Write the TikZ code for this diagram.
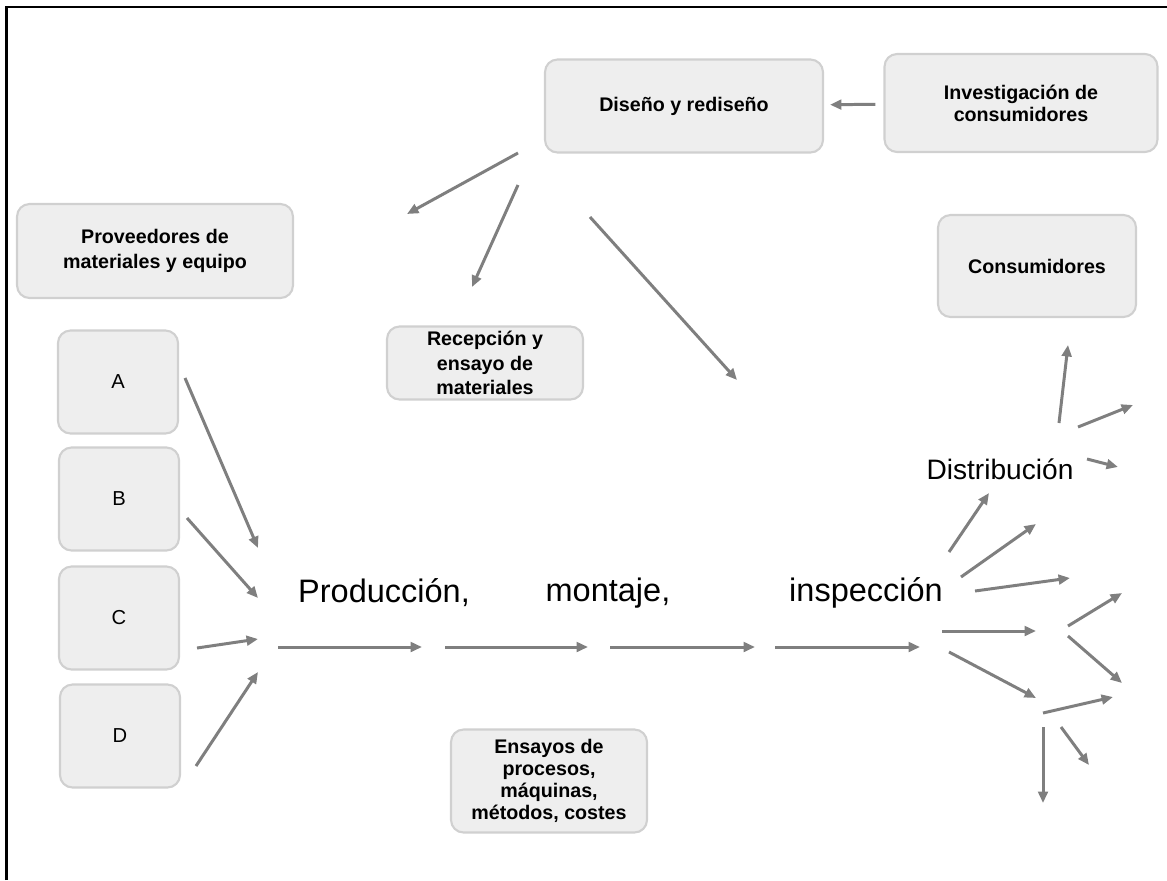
\documentclass[tikz,border=0pt]{standalone}
\usepackage{fontspec}
\setmainfont{Liberation Sans}
\usepackage{tikz}
\usetikzlibrary{arrows.meta}

\definecolor{boxfill}{HTML}{EEEEEE}
\definecolor{boxline}{HTML}{D0D0D0}
\definecolor{arrowgray}{HTML}{7F7F7F}

\begin{document}
\begin{tikzpicture}[x=0.02cm, y=-0.02cm,
			box_style/.style={rectangle,rounded corners=0.25cm,draw=boxline,line width=1.2pt,fill=boxfill,
				align=center,font=\fontsize{11.2}{13}\selectfont\bfseries,inner sep=2pt},
			letter_style/.style={box_style,font=\fontsize{11.5}{13}\selectfont,
				minimum width=2.4cm,minimum height=2.06cm},
			step_text/.style={font=\fontsize{18.5}{22}\selectfont,inner sep=0pt},
			edge_style/.style={draw=arrowgray,line width=1.7pt,
				-{Triangle[length=6.5pt,width=5.5pt]}}]
			\useasboundingbox (0,0) rectangle (1167,880);
			% frame
			\draw[line width=1.7pt] (6.5,880) -- (6.5,7) -- (1167,7);

			% boxes
			\node[box_style,minimum width=5.56cm,minimum height=1.86cm] (dis) at (684,106) {Diseño y rediseño};
			\node[box_style,minimum width=5.46cm,minimum height=1.96cm,font=\fontsize{11.2}{12.4}\selectfont\bfseries] (inv) at (1021,103) {Investigación de\\consumidores};
			\node[box_style,minimum width=5.52cm,minimum height=1.88cm,font=\fontsize{11.2}{14.6}\selectfont\bfseries] (prov) at (155,251) {Proveedores de\\materiales y equipo};
			\node[box_style,minimum width=3.96cm,minimum height=2.04cm] (cons) at (1037,266) {Consumidores};
			\node[box_style,minimum width=3.92cm,minimum height=1.46cm,font=\fontsize{11.2}{14}\selectfont\bfseries] (rec) at (485,363) {Recepción y\\ensayo de\\materiales};
			\node[box_style,minimum width=3.92cm,minimum height=2.06cm,font=\fontsize{11.2}{12.6}\selectfont\bfseries] (ens) at (549,781) {Ensayos de\\procesos,\\máquinas,\\métodos, costes};
			\node[letter_style] (A) at (118,382) {A};
			\node[letter_style] (B) at (119,499) {B};
			\node[letter_style] (C) at (119,618) {C};
			\node[letter_style] (D) at (120,736) {D};

			% stage labels
			\node[step_text] (prod) at (384,593) {Producción,};
			\node[step_text] (mont) at (608,593) {montaje,};
			\node[step_text] (insp) at (866,593) {inspección};
			\node[step_text,font=\fontsize{16}{19}\selectfont] (dist) at (1000,469) {Distribución};

			% arrow ends
			\coordinate (d1s) at (518,153); \coordinate (d1e) at (407,214);
			\coordinate (d2s) at (518,185); \coordinate (d2e) at (472,287);
			\coordinate (d3s) at (590,217); \coordinate (d3e) at (737,380);
			\coordinate (as) at (185,378); \coordinate (ae) at (258,548);
			\coordinate (bs) at (187,518); \coordinate (be) at (258,598);
			\coordinate (cs) at (197,648); \coordinate (ce) at (258,639);
			\coordinate (ds) at (196,766); \coordinate (de) at (258,672);
			\coordinate (h1s) at (278,647); \coordinate (h1e) at (422,647);
			\coordinate (h2s) at (445,647); \coordinate (h2e) at (588,647);
			\coordinate (h3s) at (610,647); \coordinate (h3e) at (755,647);
			\coordinate (h4s) at (775,647); \coordinate (h4e) at (920,647);
			\coordinate (r1s) at (942,631); \coordinate (r1e) at (1036,631);
			\coordinate (r2s) at (949,552); \coordinate (r2e) at (989,493);
			\coordinate (r3s) at (961,577); \coordinate (r3e) at (1036,524);
			\coordinate (r4s) at (975,591); \coordinate (r4e) at (1070,578);
			\coordinate (r5s) at (949,652); \coordinate (r5e) at (1036,698);
			\coordinate (r6s) at (1068,626); \coordinate (r6e) at (1122,593);
			\coordinate (r7s) at (1068,636); \coordinate (r7e) at (1122,683);
			\coordinate (r8s) at (1043,713); \coordinate (r8e) at (1113,697);
			\coordinate (r9s) at (1043,727); \coordinate (r9e) at (1043,803);
			\coordinate (r10s) at (1061,727); \coordinate (r10e) at (1089,765);
			\coordinate (t1s) at (1059,423); \coordinate (t1e) at (1068,345);
			\coordinate (t2s) at (1078,427); \coordinate (t2e) at (1133,405);
			\coordinate (t3s) at (1087,459); \coordinate (t3e) at (1118,467);

			% arrows
			\draw[edge_style,shorten <=0.16cm,shorten >=0.12cm] (inv) -- (dis);
			\draw[edge_style] (d1s) -- (d1e);
			\draw[edge_style] (d2s) -- (d2e);
			\draw[edge_style] (d3s) -- (d3e);
			\draw[edge_style] (as) -- (ae);
			\draw[edge_style] (bs) -- (be);
			\draw[edge_style] (cs) -- (ce);
			\draw[edge_style] (ds) -- (de);
			\draw[edge_style] (h1s) -- (h1e);
			\draw[edge_style] (h2s) -- (h2e);
			\draw[edge_style] (h3s) -- (h3e);
			\draw[edge_style] (h4s) -- (h4e);
			\draw[edge_style] (r1s) -- (r1e);
			\draw[edge_style] (r2s) -- (r2e);
			\draw[edge_style] (r3s) -- (r3e);
			\draw[edge_style] (r4s) -- (r4e);
			\draw[edge_style] (r5s) -- (r5e);
			\draw[edge_style] (r6s) -- (r6e);
			\draw[edge_style] (r7s) -- (r7e);
			\draw[edge_style] (r8s) -- (r8e);
			\draw[edge_style] (r9s) -- (r9e);
			\draw[edge_style] (r10s) -- (r10e);
			\draw[edge_style] (t1s) -- (t1e);
			\draw[edge_style] (t2s) -- (t2e);
			\draw[edge_style] (t3s) -- (t3e);
\end{tikzpicture}
\end{document}
